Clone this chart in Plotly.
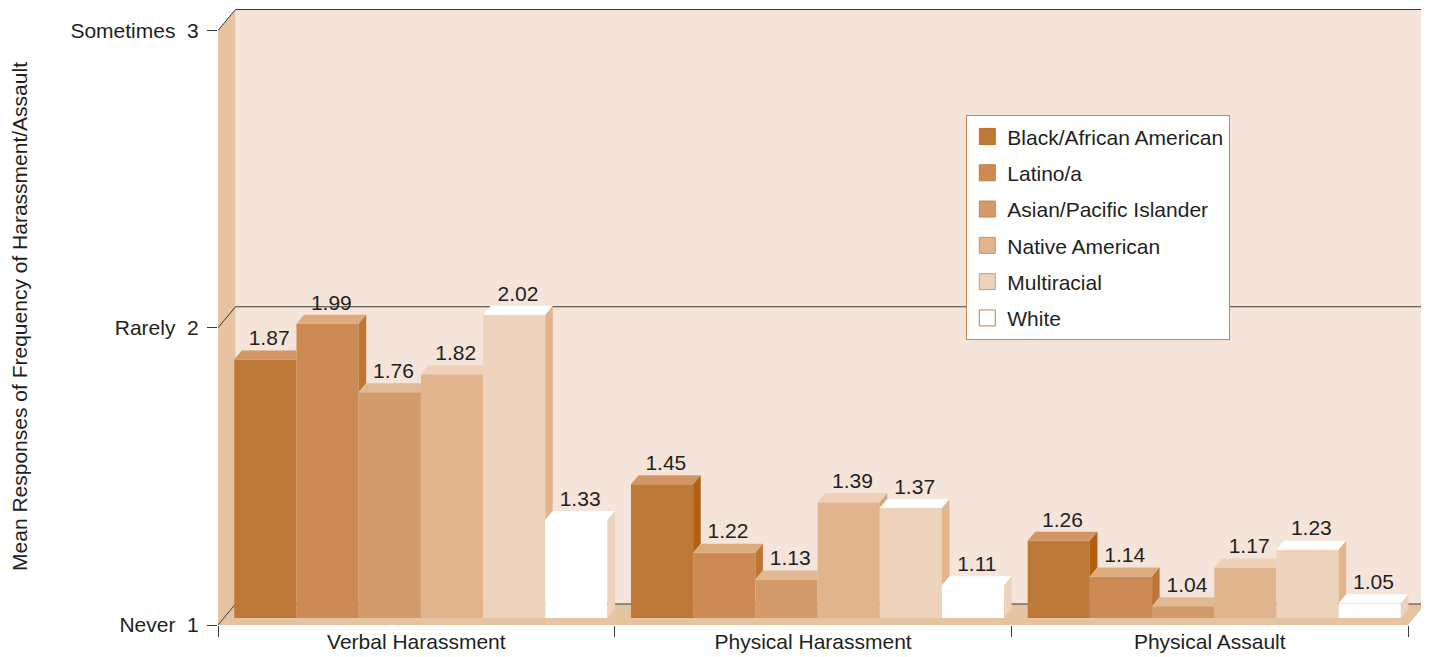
import plotly.graph_objects as go

# ---------------- data ----------------
categories = ["Verbal Harassment", "Physical Harassment", "Physical Assault"]
series_names = ["Black/African American", "Latino/a", "Asian/Pacific Islander",
                "Native American", "Multiracial", "White"]
black = [1.87, 1.45, 1.26]
latino = [1.99, 1.22, 1.14]
asian = [1.76, 1.13, 1.04]
native = [1.82, 1.39, 1.17]
multiracial = [2.02, 1.37, 1.23]
white = [1.33, 1.11, 1.05]
series_values = [black, latino, asian, native, multiracial, white]
y_tickvals = [1, 2, 3]
y_ticktext = ["Never\u00a0\u00a01", "Rarely\u00a0\u00a02", "Sometimes\u00a0\u00a03"]

# ---------------- styles ----------------
front_colors = ["#BE7837", "#CC8B55", "#D39B6A", "#E0B48C", "#EDD3BB", "#FFFFFF"]
top_colors = ["#D29564", "#DDAB7E", "#E2B995", "#EDD2B7", "#FFFFFF", "#FFFFFF"]
side_colors = ["#B0600E", "#BF7634", "#C98A52", "#D7A57A", "#E1B68E", "#EDD3BC"]
legend_border = ["#B8702C", "#C07A3C", "#C8864C", "#CC9060", "#D09A6C", "#C0803E"]
WALL = "#F5E4D9"
SIDEWALL = "#E6C3A1"
INK = "#231F20"
LINE = "#3A3A3A"
FONT = "Liberation Sans, Arial, Helvetica, sans-serif"

# the page body has an 8px margin: the figure is sized so it ends at the window edge
PAGE_OFF = 8
W, H = 1429 - PAGE_OFF, 657 - PAGE_OFF
ML = 218 - PAGE_OFF
PX_PER_CAT = 396.7
PX_PER_UNIT = 297.25
plot_w = W - ML
plot_h = 625 - PAGE_OFF
MB = H - plot_h
x_max = plot_w / PX_PER_CAT
y_min = 1.0
y_max = y_min + plot_h / PX_PER_UNIT

# depth vector of the 3D box (data units)
DXB = 17.5 / PX_PER_CAT
DYB = 21.0 / PX_PER_UNIT
TF = 0.33            # bar front depth fraction
TD = 0.43            # bar depth fraction
bar_w = 62.2 / PX_PER_CAT
gap = 10.5 / PX_PER_CAT
fdx, fdy = TF * DXB, TF * DYB
DX, DY = TD * DXB, TD * DYB
base = y_min + fdy

fig = go.Figure()

# front faces (bars)
for j, (name, vals) in enumerate(zip(series_names, series_values)):
    xs = [i + gap + j * bar_w + fdx + bar_w / 2 for i in range(len(categories))]
    fig.add_trace(go.Bar(
        x=xs, y=[v - y_min for v in vals], base=[base] * len(vals), width=bar_w,
        marker=dict(color=front_colors[j], line=dict(width=0)),
        showlegend=False, hoverinfo="skip", name=name))

# top and side faces (visible parts only)
n_series = len(series_values)
for j in range(n_series):
    tx, ty, sx, sy = [], [], [], []
    for i in range(len(categories)):
        x0 = i + gap + j * bar_w + fdx
        xr = x0 + bar_w
        T = series_values[j][i] + fdy
        if j + 1 < n_series:
            Tn = series_values[j + 1][i] + fdy
        else:
            Tn = base
        ts = min(max((Tn - T) / DY, 0.0), 1.0)
        tx += [x0, xr, xr, xr + (1 - ts) * DX, x0 + DX, x0, None]
        ty += [T, T, T + ts * DY, T + DY, T + DY, T, None]
        if Tn < T:
            sx += [xr, xr, xr + DX, xr + DX, xr, None]
            sy += [Tn, T, T + DY, Tn + DY, Tn, None]
    fig.add_trace(go.Scatter(x=tx, y=ty, mode="lines", fill="toself",
                             fillcolor=top_colors[j], line=dict(width=0),
                             showlegend=False, hoverinfo="skip"))
    if sx:
        fig.add_trace(go.Scatter(x=sx, y=sy, mode="lines", fill="toself",
                                 fillcolor=side_colors[j], line=dict(width=0),
                                 showlegend=False, hoverinfo="skip"))

# value labels
lx, ly, lt = [], [], []
for j, vals in enumerate(series_values):
    for i, v in enumerate(vals):
        lx.append(i + gap + j * bar_w + fdx + bar_w / 2 + DX / 2)
        ly.append(v + fdy + DY)
        lt.append(f"{v:.2f}")
fig.add_trace(go.Scatter(x=lx, y=ly, text=lt, mode="text", textposition="top center",
                         textfont=dict(family=FONT, size=21, color=INK),
                         showlegend=False, hoverinfo="skip", cliponaxis=False))

# legend entries
for j, name in enumerate(series_names):
    fig.add_trace(go.Scatter(
        x=[None], y=[None], mode="markers", name=name, legendgroup=f"g{j}",
        marker=dict(symbol="square", size=22, color=front_colors[j],
                    line=dict(color=legend_border[j], width=1))))

# walls, floor and grid
shapes = []
shapes.append(dict(type="rect", xref="x", yref="y", x0=DXB, x1=x_max, y0=1 + DYB, y1=3 + DYB,
                   fillcolor=WALL, line=dict(width=0), layer="below"))
shapes.append(dict(type="path", xref="x", yref="y",
                   path=f"M 0,1 L {DXB},{1 + DYB} L {DXB},{3 + DYB} L 0,3 Z",
                   fillcolor=SIDEWALL, line=dict(width=0), layer="below"))
n_cat = len(categories)
shapes.append(dict(type="path", xref="x", yref="y",
                   path=f"M 0,1 L {n_cat},1 L {n_cat + DXB},{1 + DYB} L {DXB},{1 + DYB} Z",
                   fillcolor=SIDEWALL, line=dict(width=0), layer="below"))
for v in y_tickvals:
    shapes.append(dict(type="path", xref="x", yref="y",
                       path=f"M 0,{v} L {DXB},{v + DYB} L {x_max},{v + DYB}",
                       line=dict(color=LINE, width=1), layer="below"))

fig.update_layout(
    width=W, height=H,
    margin=dict(l=ML, r=0, t=0, b=MB, pad=0, autoexpand=False),
    paper_bgcolor="white", plot_bgcolor="white",
    barmode="overlay",
    shapes=shapes,
    font=dict(family=FONT, size=21, color=INK),
    xaxis=dict(range=[0, x_max], showgrid=False, zeroline=False, showline=False,
               automargin=False,
               tickvals=[i + 0.5 for i in range(n_cat)], ticktext=categories,
               ticks="", tickfont=dict(size=21), ticklabelstandoff=2,
               minor=dict(tickvals=list(range(n_cat + 1)), ticks="outside",
                          ticklen=11, tickcolor=LINE, tickwidth=1)),
    yaxis=dict(range=[y_min, y_max], showgrid=False, zeroline=False, showline=False,
               automargin=False,
               tickvals=y_tickvals, ticktext=y_ticktext, ticks="outside",
               ticklen=10, tickcolor=LINE, tickwidth=1, ticklabelstandoff=4,
               tickfont=dict(size=21),
               title=dict(text="Mean Responses of Frequency of Harassment/Assault",
                          font=dict(size=21), standoff=44)),
    legend=dict(x=(966 - 218) / plot_w, y=1 - (115 - PAGE_OFF) / plot_h,
                xanchor="left", yanchor="top",
                bgcolor="white", bordercolor="#C8884A", borderwidth=1.3,
                font=dict(size=21, color=INK), tracegroupgap=6, itemsizing="trace"),
)

fig.write_html("out.html")
